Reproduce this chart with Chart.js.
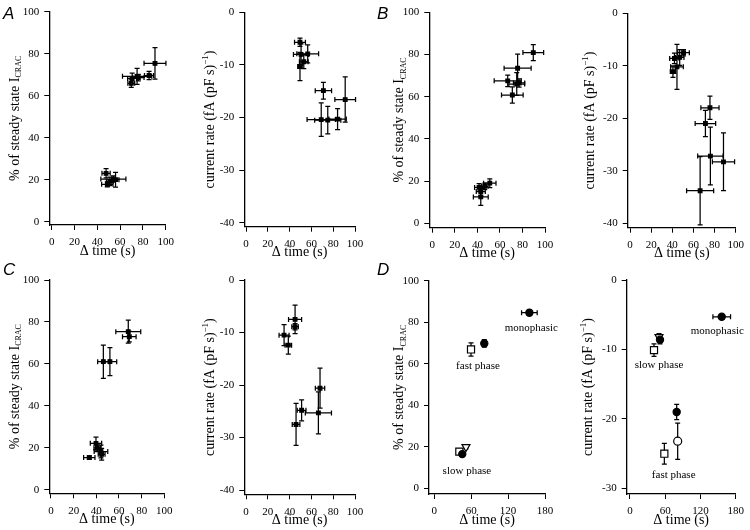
<!DOCTYPE html>
<html><head><meta charset="utf-8">
<script src="https://cdn.jsdelivr.net/npm/chart.js@4.4.1/dist/chart.umd.min.js"></script>
<style>
html,body{margin:0;padding:0;background:#fff;}
#wrap{position:relative;width:750px;height:530px;overflow:hidden;background:#fff;}
#wrap canvas{position:absolute;left:0;top:0;}
</style></head><body><div id="wrap"></div>
<script>
// ---------- tick labels ----------
const timeTicks100 = [0, 20, 40, 60, 80, 100];
const timeTicks180 = [0, 60, 120, 180];
const pctTicks = [0, 20, 40, 60, 80, 100];
const rateTicks40 = [0, -10, -20, -30, -40];
const rateTicks30 = [0, -10, -20, -30];

// ---------- data: [Δtime (s), value, time error, value error] ----------
const aPct = [
  [90.6, 75.4, 9.6, 7.5], [85.4, 69.6, 4, 2], [74.9, 69.2, 12.8, 3.8], [70.6, 68.2, 4, 2.5],
  [69.8, 65.9, 3, 2], [76.0, 68.6, 5, 1.5],
  [47.7, 23.0, 3.6, 2.2], [54.1, 20.3, 11, 1.5], [48.8, 17.8, 5, 1.2], [51.0, 19.2, 3, 2], [56.0, 20.0, 3, 3.5]
];
const aRate = [
  [49.5, -5.7, 5, 0.8], [56.6, -7.9, 10, 1.7], [50.5, -8.0, 7, 2], [53, -9.4, 4, 1.3], [49.5, -10.3, 2, 2.7],
  [71, -14.9, 7.5, 1.6], [91, -16.6, 9.5, 4.3], [69, -20.4, 13, 3.2], [75, -20.5, 12, 2.6], [84, -20.3, 8, 2]
];
const bPct = [
  [89.6, 80.9, 9.2, 3.8], [75.7, 73.5, 12, 6.7], [66.9, 67.5, 12, 2.7], [74.9, 66, 7, 5.4], [77, 66.5, 5, 2],
  [71, 60.8, 9.6, 3.8],
  [51, 19, 5.5, 2.1], [41.5, 17, 4, 1.8], [46.5, 17.5, 3, 1.5], [43, 15, 4, 2], [43, 12.5, 6.6, 4]
];
const bRate = [
  [50.6, -7.5, 5.5, 0.6], [47, -8.4, 4, 1.5], [42, -8.6, 4.5, 1], [44.4, -10.2, 6, 4.3], [40.6, -11.1, 2.5, 1.1],
  [75.6, -18, 8.6, 2.2], [71.3, -21, 9.7, 2.5], [76, -27.2, 12, 5.5], [88.4, -28.3, 10.5, 5.5], [66.3, -33.8, 12.8, 6.5]
];
const cPct = [
  [68.2, 75.4, 11, 5.5], [69.1, 73, 6, 2.5], [46.2, 61.1, 5, 7.9], [52, 61.1, 6, 6.7],
  [39.7, 22.2, 5, 3], [33.8, 15.4, 5, 0.8], [44.1, 18.3, 6, 3], [44.7, 17, 3, 2.8], [40.9, 20, 3, 1.5]
];
const cRate = [
  [45, -7.5, 6, 2.7], [45, -8.9, 3, 0.6], [34.9, -10.5, 4.6, 2], [38.8, -12.4, 3, 1.7],
  [67.9, -20.6, 4.3, 3.8], [66.4, -25.3, 12, 4], [51, -24.8, 4, 2], [45.9, -27.5, 3.5, 4]
];
// panel D: one list per symbol
const dPctFilled = [[154.6, 84.6, 12.7, 1.2], [81.3, 69.8, 3, 1.8], [45.5, 16.5, 2, 1]];
const dPctOpenSquare = [[59.7, 66.9, 2.5, 3.2], [40.7, 17.7, 3, 1.2]];
const dPctOpenTriangle = [[51.5, 20, 2, 1]];
const dPctLabels = [["monophasic", 157.8, 77], ["fast phase", 71, 58.9], ["slow phase", 53, 8.5]];
const dRateFilled = [[156.2, -5.3, 15, 0.3], [51.1, -8.6, 2, 0.6], [79.5, -19, 2, 1.1]];
const dRateOpenSquare = [[40.9, -10.1, 3, 0.9], [58.5, -25, 3, 1.5]];
const dRateOpenCircle = [[81.2, -23.2, 3, 2.6]];
const dRateOpenTriangle = [[49.4, -8.2, 2, 0.5]];
const dRateLabels = [["monophasic", 148.8, -7.35], ["slow phase", 49.4, -12.2], ["fast phase", 74.4, -28.1]];

// ---------- styles ----------
const SERIF = "'Liberation Serif', 'Times New Roman', serif";
const SANS = "'Liberation Sans', Arial, sans-serif";
const CAP = 2.5;
const YW = 45, XH = 40;

const dot = {pointStyle: 'rect', radius: 2.6, bg: '#000'};
const sFilled = {pointStyle: 'circle', radius: 3.6, bg: '#000'};
const sSquare = {pointStyle: 'rect', radius: 5, bg: '#fff'};
const sTri = {pointStyle: 'triangle', radius: 4.6, bg: '#fff', rotation: 180};
const sCircle = {pointStyle: 'circle', radius: 4, bg: '#fff'};

const panels = [
  {letter: 'A', area: [49.3, 165.7, 11.7, 225], x: [-2.1, 100], y: [-1.6, 100], xt: timeTicks100, yt: pctTicks,
   kind: 'pct', tOff: 34, sets: [[aPct, dot]]},
  {area: [244.3, 355, 12.3, 226.7], x: [-1.6, 100], y: [-40.76, 0], xt: timeTicks100, yt: rateTicks40,
   kind: 'rate', tOff: 34, sets: [[aRate, dot]]},
  {letter: 'B', area: [429.3, 545, 12.3, 227.7], x: [-2.7, 100], y: [-2.1, 100], xt: timeTicks100, yt: pctTicks,
   kind: 'pct', tOff: 29.5, sets: [[bPct, dot]]},
  {area: [627.7, 736.7, 13.3, 227.7], x: [-2.2, 100], y: [-40.84, 0], xt: timeTicks100, yt: rateTicks40,
   kind: 'rate', tOff: 37.5, sets: [[bRate, dot]]},
  {letter: 'C', area: [49.3, 164.3, 280, 493.3], x: [-1.5, 100], y: [-1.6, 100], xt: timeTicks100, yt: pctTicks,
   kind: 'pct', tOff: 34, sets: [[cPct, dot]]},
  {area: [244.3, 355, 280, 494.3], x: [-1.6, 100], y: [-40.8, 0], xt: timeTicks100, yt: rateTicks40,
   kind: 'rate', tOff: 34, sets: [[cRate, dot]]},
  {letter: 'D', area: [429, 545, 280.7, 494], x: [-8.6, 180], y: [-2.7, 100], xt: timeTicks180, yt: pctTicks,
   kind: 'pct', tOff: 29.5, labels: dPctLabels,
   sets: [[dPctFilled, sFilled], [dPctOpenSquare, sSquare], [dPctOpenTriangle, sTri]]},
  {area: [626.7, 735.7, 280, 494], x: [-5.6, 180], y: [-30.8, 0], xt: timeTicks180, yt: rateTicks30,
   kind: 'rate', tOff: 38, labels: dRateLabels,
   sets: [[dRateFilled, sFilled], [dRateOpenSquare, sSquare], [dRateOpenCircle, sCircle], [dRateOpenTriangle, sTri]]}
];
const letterPos = {A: [3, 18.5], B: [377, 18.5], C: [3, 274.5], D: [377, 274.5]};

function rotatedTitle(ctx, cx, cy, parts) {
  ctx.save();
  ctx.translate(cx, cy);
  ctx.rotate(-Math.PI / 2);
  ctx.textBaseline = 'middle';
  ctx.textAlign = 'left';
  let total = 0;
  parts.forEach(p => { ctx.font = p.size + 'px ' + SERIF; p.w = ctx.measureText(p.t).width; total += p.w; });
  let x = -total / 2;
  parts.forEach(p => { ctx.font = p.size + 'px ' + SERIF; ctx.fillStyle = '#000'; ctx.fillText(p.t, x, p.dy || 0); x += p.w; });
  ctx.restore();
}

function makeDeco(p) {
  return {
    id: 'deco',
    beforeDatasetsDraw(chart) {
      const ctx = chart.ctx, xs = chart.scales.x, ys = chart.scales.y;
      ctx.save();
      ctx.strokeStyle = '#000';
      ctx.lineWidth = 1.25;
      chart.data.datasets.forEach(ds => ds.data.forEach(pt => {
        const cx = xs.getPixelForValue(pt.x), cy = ys.getPixelForValue(pt.y);
        ctx.beginPath();
        if (pt.xe) {
          const l = xs.getPixelForValue(pt.x - pt.xe), r = xs.getPixelForValue(pt.x + pt.xe);
          ctx.moveTo(l, cy); ctx.lineTo(r, cy);
          ctx.moveTo(l, cy - CAP); ctx.lineTo(l, cy + CAP);
          ctx.moveTo(r, cy - CAP); ctx.lineTo(r, cy + CAP);
        }
        if (pt.ye) {
          const t = ys.getPixelForValue(pt.y + pt.ye), b = ys.getPixelForValue(pt.y - pt.ye);
          ctx.moveTo(cx, t); ctx.lineTo(cx, b);
          ctx.moveTo(cx - CAP, t); ctx.lineTo(cx + CAP, t);
          ctx.moveTo(cx - CAP, b); ctx.lineTo(cx + CAP, b);
        }
        ctx.stroke();
      }));
      ctx.restore();
    },
    afterDraw(chart) {
      const ctx = chart.ctx, a = chart.chartArea, xs = chart.scales.x, ys = chart.scales.y;
      ctx.save();
      ctx.fillStyle = '#000';
      // x title
      ctx.font = '14px ' + SERIF;
      ctx.textAlign = 'center';
      ctx.textBaseline = 'middle';
      ctx.fillText('Δ time (s)', (a.left + a.right) / 2, a.bottom + 26);
      // y title
      const cy = (a.top + a.bottom) / 2, cx = a.left - p.tOff;
      if (p.kind === 'pct') {
        rotatedTitle(ctx, cx, cy, [{t: '% of steady state I', size: 14}, {t: 'CRAC', size: 8, dy: 4}]);
      } else {
        rotatedTitle(ctx, cx, cy, [{t: 'current rate (fA (pF s)', size: 14}, {t: '−1', size: 9, dy: -5}, {t: ')', size: 14}]);
      }
      // annotations
      if (p.labels) {
        ctx.font = '11px ' + SERIF;
        ctx.textAlign = 'center';
        ctx.textBaseline = 'middle';
        p.labels.forEach(l => ctx.fillText(l[0], xs.getPixelForValue(l[1]), ys.getPixelForValue(l[2])));
      }
      // panel letter
      if (p.letter) {
        ctx.font = 'italic 17px ' + SANS;
        ctx.textAlign = 'left';
        ctx.textBaseline = 'alphabetic';
        const lp = letterPos[p.letter];
        ctx.fillText(p.letter, lp[0], lp[1]);
      }
      ctx.restore();
    }
  };
}

function axis(range, ticks, isX) {
  return {
    type: 'linear', min: range[0], max: range[1],
    afterFit: s => { if (isX) s.height = XH; else s.width = YW; },
    afterBuildTicks: s => { s.ticks = ticks.map(v => ({value: v})); },
    grid: {drawOnChartArea: false, drawTicks: true, tickLength: 5, color: '#000', lineWidth: 1},
    border: {display: true, color: '#000', width: 1.3},
    ticks: {padding: isX ? 6 : 5, color: '#000', autoSkip: false, maxRotation: 0,
            font: {family: SERIF, size: 11}, callback: v => String(v)}
  };
}

const wrap = document.getElementById('wrap');
panels.forEach(p => {
  const cv = document.createElement('canvas');
  cv.width = 750; cv.height = 530;
  cv.style.width = '750px'; cv.style.height = '530px';
  wrap.appendChild(cv);
  const [L, R, T, B] = p.area;
  const datasets = p.sets.map(([rows, st]) => ({
    data: rows.map(r => ({x: r[0], y: r[1], xe: r[2], ye: r[3]})),
    pointStyle: st.pointStyle, pointRadius: st.radius, pointRotation: st.rotation || 0,
    pointBackgroundColor: st.bg, pointBorderColor: '#000', pointBorderWidth: 1.2,
    showLine: false
  }));
  new Chart(cv, {
    type: 'scatter',
    data: {datasets},
    options: {
      responsive: false, animation: false, devicePixelRatio: 1,
      layout: {padding: {left: L - YW, right: 750 - R, top: T, bottom: 530 - B - XH}},
      plugins: {legend: {display: false}, tooltip: {enabled: false}},
      events: [],
      scales: {x: axis(p.x, p.xt, true), y: axis(p.y, p.yt, false)}
    },
    plugins: [makeDeco(p)]
  });
});
</script>
</body></html>
